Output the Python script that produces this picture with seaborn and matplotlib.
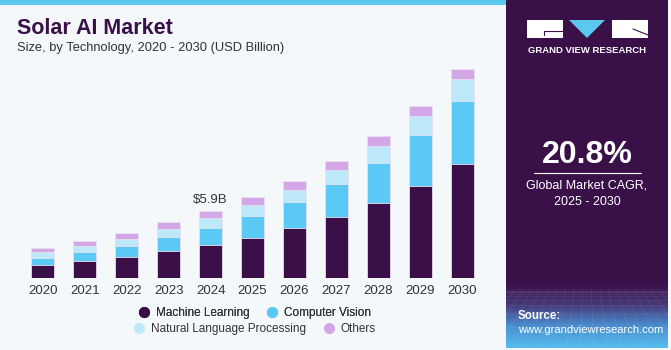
import numpy as np
import pandas as pd
import seaborn as sns
import matplotlib.pyplot as plt
from matplotlib.colors import LinearSegmentedColormap
from matplotlib.lines import Line2D
from matplotlib.patches import Rectangle, Polygon

years = [str(y) for y in range(2020, 2031)]
machine_learning = [1.17, 1.52, 1.89, 2.42, 2.95, 3.56, 4.39, 5.38, 6.61, 8.12, 10.03]
computer_vision = [0.64, 0.79, 0.96, 1.20, 1.49, 1.90, 2.31, 2.89, 3.54, 4.45, 5.53]
nlp = [0.47, 0.53, 0.61, 0.70, 0.85, 0.94, 1.08, 1.23, 1.49, 1.67, 1.96]
others = [0.35, 0.41, 0.50, 0.61, 0.61, 0.73, 0.76, 0.79, 0.85, 0.88, 0.82]

segments = ["Machine Learning", "Computer Vision", "Natural Language Processing", "Others"]
colors = ["#3a0f47", "#5bc9f5", "#bde9fa", "#d3a6e8"]
label_year, label_text = "2024", "$5.9B"

sns.set_style("white")
plt.rcParams["font.family"] = ["Liberation Sans", "DejaVu Sans"]

W, H = 671, 350
fig = plt.figure(figsize=(W / 100, H / 100), dpi=100)
fig.patch.set_facecolor("#f4f8fb")

# background layer in pixel coordinates
bg = fig.add_axes([0, 0, 1, 1])
bg.set_xlim(0, W)
bg.set_ylim(H, 0)
bg.axis("off")
bg.add_patch(Rectangle((0, 0), 506, 5, color="#5bc8f0", lw=0))
bg.add_patch(Rectangle((506, 0), 162, 348, color="#3a1049", lw=0))
grad = LinearSegmentedColormap.from_list("g", ["#3a1049", "#47387a", "#4a8fd0", "#55bdec"])
bg.imshow(np.linspace(0, 1, 100).reshape(-1, 1), cmap=grad, aspect="auto",
          extent=[506, 668, 348, 283], zorder=1)
for gx in np.linspace(506, 668, 20):
    bg.plot([gx, 587 + (gx - 587) * 1.6], [290, 348], color="white", alpha=0.09, lw=0.5, zorder=2)
for gy in np.geomspace(1, 58, 10):
    bg.plot([506, 668], [290 + gy, 290 + gy], color="white", alpha=0.09, lw=0.5, zorder=2)

# logo
bg.add_patch(Rectangle((527, 20), 36, 18, color="white", lw=0, zorder=3))
bg.add_patch(Polygon([[569, 20], [605, 20], [587, 38]], color="#5bc8f0", lw=0, zorder=3))
bg.add_patch(Rectangle((612, 20), 36, 18, color="white", lw=0, zorder=3))
bg.plot([544, 563], [31, 31], color="#3a1049", lw=0.8, zorder=4)
bg.plot([544, 544], [31, 35], color="#3a1049", lw=0.8, zorder=4)
bg.plot([633, 648], [29, 35], color="#3a1049", lw=0.8, zorder=4)
bg.text(587, 50.5, "GRAND VIEW RESEARCH", color="white", fontsize=6.8, fontweight="bold",
        ha="center", va="center", zorder=4)

bg.text(587, 155, "20.8%", color="white", fontsize=23, fontweight="bold", ha="center", va="center")
bg.plot([534, 641], [173, 173], color="white", lw=0.8)
bg.text(587, 186, "Global Market CAGR,", color="white", fontsize=9, ha="center", va="center")
bg.text(587, 202, "2025 - 2030", color="white", fontsize=9, ha="center", va="center")
bg.text(518, 316, "Source:", color="white", fontsize=8.3, fontweight="bold", va="center", zorder=4)
bg.text(518, 330, "www.grandviewresearch.com", color="white", fontsize=8, va="center", zorder=4)

bg.text(17, 28, "Solar AI Market", color="#3a1049", fontsize=15.5, fontweight="heavy", va="center")
bg.text(17, 48, "Size, by Technology, 2020 - 2030 (USD Billion)", color="#333333", fontsize=9.3,
        va="center")

# chart
df = pd.DataFrame({"Year": years, segments[0]: machine_learning, segments[1]: computer_vision,
                   segments[2]: nlp, segments[3]: others})
cum = df[segments].cumsum(axis=1)
cum["Year"] = df["Year"]

ax = fig.add_axes([22 / W, 1 - 278.3 / H, 461 / W, (278.3 - 60) / H])
ax.patch.set_alpha(0)
for seg, col in reversed(list(zip(segments, colors))):
    sns.barplot(data=cum, x="Year", y=seg, color=col, width=0.55, ax=ax,
                edgecolor="#e8e0ee", linewidth=0.6, saturation=1)
ax.set_xlim(-0.5, 10.5)
ax.set_ylim(0, (278.3 - 60) / 11.4)
ax.set_xlabel("")
ax.set_ylabel("")
ax.set_yticks([])
sns.despine(ax=ax, left=True, bottom=True)
ax.tick_params(axis="x", length=0, pad=5, labelsize=9.5, labelcolor="#333333")

i = years.index(label_year)
ax.text(i, cum[segments[-1]][i] + 0.4, label_text, ha="center", va="bottom",
        fontsize=9.5, color="#333333")

def handle(c):
    return Line2D([], [], marker="o", ls="", markersize=7, markerfacecolor=c, markeredgecolor=c)

leg_kw = dict(ncol=2, loc="center", frameon=False, fontsize=8.5, handletextpad=0.4,
              columnspacing=1.3, labelcolor="#333333", handlelength=1.2)
leg1 = fig.legend([handle(colors[0]), handle(colors[1])], segments[:2],
                  bbox_to_anchor=(254 / W, 1 - 313 / H), **leg_kw)
fig.legend([handle(colors[2]), handle(colors[3])], segments[2:],
           bbox_to_anchor=(254 / W, 1 - 329 / H), **leg_kw)
fig.add_artist(leg1)

fig.savefig("out.png", dpi=100, facecolor=fig.get_facecolor())
